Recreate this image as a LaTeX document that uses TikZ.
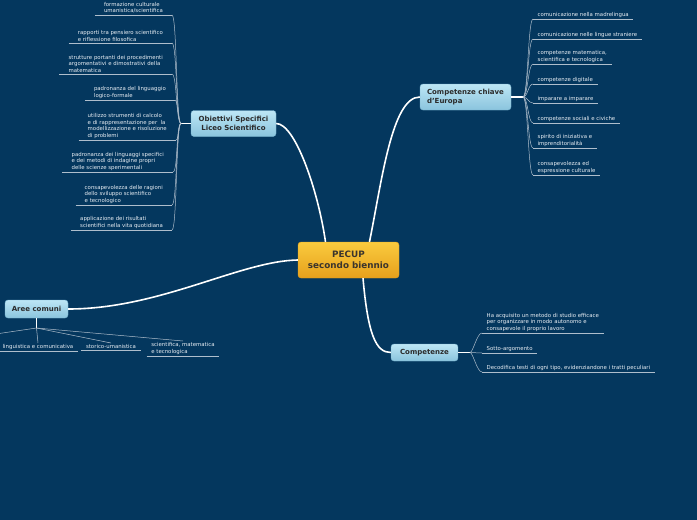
\documentclass[tikz,border=0pt]{standalone}
\usepackage{fontspec}
\setmainfont{DejaVu Sans}
\usepackage{xcolor}
\usepackage{tikz}
\usetikzlibrary{positioning,calc}
\definecolor{bg}{HTML}{04375E}
\definecolor{topicA}{HTML}{BDE6F5}
\definecolor{topicB}{HTML}{8AC4DD}
\definecolor{topicrim}{HTML}{78B3CF}
\definecolor{mainA}{HTML}{FACB3E}
\definecolor{mainB}{HTML}{E6A01C}
\definecolor{ink}{HTML}{2B2B2B}
\definecolor{leaftext}{HTML}{E8EEF4}
\definecolor{twigc}{HTML}{AFBECC}
\tikzset{
  topic/.style={draw=topicrim, line width=0.4pt, rounded corners=3pt, top color=topicA, bottom color=topicB, text=ink, inner sep=0pt, font=\fontsize{7}{8.6}\selectfont\bfseries},
  central/.style={topic, draw=mainB, top color=mainA, bottom color=mainB, text=ink!90!brown, align=center, font=\fontsize{8.8}{11}\selectfont\bfseries},
  twigline/.style={draw=twigc, line width=0.5pt},
  leaf/.style={font=\fontsize{5.4}{6.5}\selectfont, text=leaftext, align=left, inner xsep=4.5pt, inner ysep=1.5pt,
    append after command={(\tikzlastnode.south west) edge[twigline] (\tikzlastnode.south east)}},
  leafL/.style={leaf, inner xsep=9pt},
  branch/.style={white, line width=1.6pt},
  stub/.style={white, line width=1.1pt},
}

\begin{document}
\begin{tikzpicture}[x=1pt, y=-1pt]
  \useasboundingbox (0,0) rectangle (697,520);
  \fill[bg] (0,0) rectangle (697,520);

  % main topics
  \node[central, minimum width=101pt, minimum height=36pt] (pecup) at (348.5,260) {PECUP\\secondo biennio};
  \node[topic, align=center, minimum width=85pt, minimum height=26pt] (obj) at (233.5,123.5) {Obiettivi Specifici\\Liceo Scientifico};
  \node[topic, align=left, minimum width=91pt, minimum height=26pt] (eur) at (465.5,97) {Competenze chiave\\d'Europa};
  \node[topic, minimum width=63pt, minimum height=18pt] (aree) at (36.5,309) {Aree comuni};
  \node[topic, minimum width=67pt, minimum height=17pt] (comp) at (424.5,352.5) {Competenze};

  \draw[branch] ([xshift=-23pt]pecup.north) .. controls (318,190) and (295,123.5) .. (obj.east);
  \draw[branch] ([xshift=21pt]pecup.north) .. controls (382,180) and (392,97) .. (eur.west);
  \draw[branch] (pecup.west) .. controls (240,261) and (160,309) .. (aree.east);
  \draw[branch] ([xshift=14.5pt]pecup.south) .. controls (368,335) and (376,352.5) .. (comp.west);

  % hubs
  \coordinate (hubO) at (181,123.5);
  \coordinate (hubE) at (523,97);
  \coordinate (hubC) at (470,352.5);
  \coordinate (hubA) at (36.5,328);
  \draw[stub] (obj.west) -- (hubO);
  \draw[stub] (eur.east) -- (hubE);
  \draw[stub] (comp.east) -- (hubC);
  \draw[stub] (aree.south) -- (hubA);

  % Obiettivi Specifici
  \node[leafL, anchor=south east] (o1) at (172,15) {formazione culturale\\umanistica/scientifica};
  \node[leafL, anchor=south east] (o2) at (172,43) {rapporti tra pensiero scientifico\\e riflessione filosofica};
  \node[leafL, anchor=south east] (o3) at (172,74) {strutture portanti dei procedimenti\\argomentativi e dimostrativi della\\matematica};
  \node[leafL, anchor=south east] (o4) at (175,100) {padronanza del linguaggio\\logico-formale};
  \node[leafL, anchor=south east] (o5) at (176,140) {utilizzo strumenti di calcolo\\e di rappresentazione per~ la\\modellizzazione e risoluzione\\di problemi};
  \node[leafL, anchor=south east] (o6) at (173,172) {padronanza dei linguaggi specifici\\e dei metodi di indagine propri\\delle scienze sperimentali};
  \node[leafL, anchor=south east] (o7) at (172,205) {consapevolezza delle ragioni\\dello sviluppo scientifico\\e tecnologico};
  \node[leafL, anchor=south east] (o8) at (172,230) {applicazione dei risultati\\scientifici nella vita quotidiana};
  \draw[twigline] (o1.south east) .. controls +(5,0) and +(-5,0) .. (hubO);
  \draw[twigline] (o2.south east) .. controls +(5,0) and +(-5,0) .. (hubO);
  \draw[twigline] (o3.south east) .. controls +(5,0) and +(-5,0) .. (hubO);
  \draw[twigline] (o4.south east) .. controls +(3,0) and +(-3,0) .. (hubO);
  \draw[twigline] (o5.south east) .. controls +(3,0) and +(-3,0) .. (hubO);
  \draw[twigline] (o6.south east) .. controls +(5,0) and +(-5,0) .. (hubO);
  \draw[twigline] (o7.south east) .. controls +(5,0) and +(-5,0) .. (hubO);
  \draw[twigline] (o8.south east) .. controls +(5,0) and +(-5,0) .. (hubO);

  % Competenze chiave d'Europa
  \node[leaf, anchor=south west] (e1) at (533,19) {comunicazione nella madrelingua};
  \node[leaf, anchor=south west] (e2) at (533,39) {comunicazione nelle lingue straniere};
  \node[leaf, anchor=south west] (e3) at (533,64) {competenze matematica,\\scientifica e tecnologica};
  \node[leaf, anchor=south west] (e4) at (533,84) {competenze digitale};
  \node[leaf, anchor=south west] (e5) at (533,103) {imparare a imparare};
  \node[leaf, anchor=south west] (e6) at (533,123) {competenze sociali e civiche};
  \node[leaf, anchor=south west] (e7) at (533,148) {spirito di iniziativa e\\imprenditorialità};
  \node[leaf, anchor=south west] (e8) at (533,175) {consapevolezza ed\\espressione culturale};
  \draw[twigline] (hubE) .. controls +(5,0) and +(-5,0) .. (e1.south west);
  \draw[twigline] (hubE) .. controls +(5,0) and +(-5,0) .. (e2.south west);
  \draw[twigline] (hubE) .. controls +(5,0) and +(-5,0) .. (e3.south west);
  \draw[twigline] (hubE) .. controls +(5,0) and +(-5,0) .. (e4.south west);
  \draw[twigline] (hubE) .. controls +(5,0) and +(-5,0) .. (e5.south west);
  \draw[twigline] (hubE) .. controls +(5,0) and +(-5,0) .. (e6.south west);
  \draw[twigline] (hubE) .. controls +(5,0) and +(-5,0) .. (e7.south west);
  \draw[twigline] (hubE) .. controls +(5,0) and +(-5,0) .. (e8.south west);

  % Competenze
  \node[leaf, anchor=south west] (c1) at (482,333) {Ha acquisito un metodo di studio efficace\\per organizzare in modo autonomo e\\consapevole il proprio lavoro};
  \node[leaf, anchor=south west] (c2) at (482,353) {Sotto-argomento};
  \node[leaf, anchor=south west] (c3) at (482,372) {Decodifica testi di ogni tipo, evidenziandone i tratti peculiari};
  \draw[twigline] (hubC) .. controls +(3,0) and +(-5,0) .. (c1.south west);
  \draw[twigline] (hubC) -- (c2.south west);
  \draw[twigline] (hubC) .. controls +(3,0) and +(-5,0) .. (c3.south west);

  % Aree comuni
  \node[leaf, anchor=north] (a1) at (38,343) {linguistica e comunicativa};
  \node[leaf, anchor=north] (a2) at (111,343) {storico-umanistica};
  \node[leaf, anchor=north] (a3) at (183,341) {scientifica, matematica\\e tecnologica};
  \coordinate (aoff) at (-45,340);
  \draw[twigline] (hubA) -- (aoff);
  \draw[twigline] (hubA) -- (a1.north);
  \draw[twigline] (hubA) -- (a2.north);
  \draw[twigline] (hubA) -- (a3.north);
\end{tikzpicture}
\end{document}
